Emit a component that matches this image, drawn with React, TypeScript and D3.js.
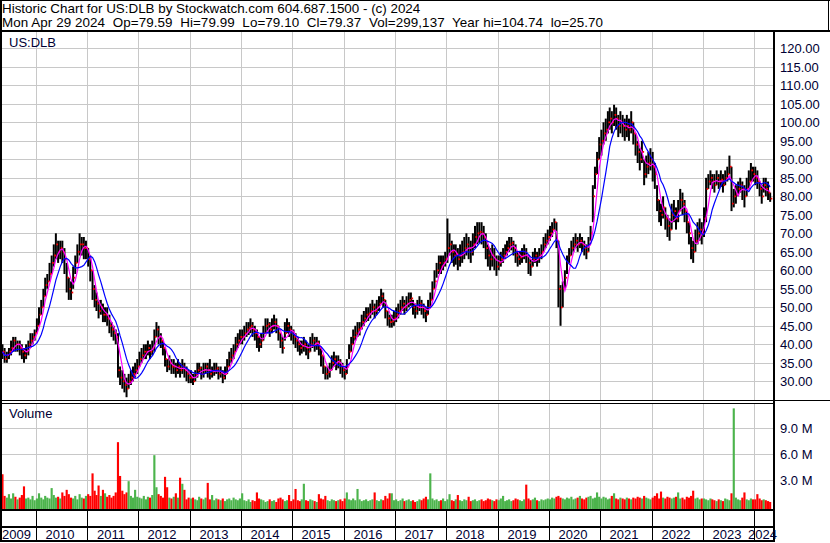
import React from 'react';
import * as d3 from 'd3';

// Half-monthly bars, May 2009 .. Apr 2024
const years = ['2009','2010','2011','2012','2013','2014','2015','2016','2017','2018','2019','2020','2021','2022','2023','2024'];
const priceTicks = [30,35,40,45,50,55,60,65,70,75,80,85,90,95,100,105,110,115,120];
const volTicks = [3, 6, 9];

const closes = [
  38,36,37,38,39,41,40,40,39,38,37,38,40,41,42,43,
  45,48,50,53,56,57,59,62,64,67,65,66,65,63,58,55,54,58,62,65,67,67,66,66,
  63,60,55,52,51,49,50,48,48,47,45,44,43,42,33,31,30,29,28,30,31,32,33,34,
  36,37,38,38,39,38,39,42,44,42,41,39,36,34,35,34,34,33,34,33,34,33,32,31,
  31,30,32,33,33.6,32,33,34,33,32,32.6,33,33.5,32,32.4,31,32,34,36,37,38,40,41,42,
  42,43,44,44.5,45,44,43,42,40,41,43,45,45.4,44,45,46,45,43,41,39,43,45,44,43,
  42,41,40,39,39.5,40,39,38,40,41,40,40.5,39,37,34,32,32.5,33,35,36,35,35.4,34,33,
  32,34,38,40,42,43,44,44.4,46,47,48,48.3,49,50,49,50,51,53,52,49,47,46,46.2,47,
  48,49,50,51,50,51,52,52.4,50,49,50,51,50,49,48,50,52,55,57,60,62,61,62,63,
  66,67,65,64,64.5,63,64,65,66,67,66,65,67,69,70,70.4,70,69,66,64,63,64,63,61,
  62,63,64,65,66,67,67.4,66,64,63,63.5,64,65,64,62,61,63,64,63,64,65,67,68,69,
  70,71,73,68,55,50,55,58,62,64,66,67,68,67,68,67,66,65,67,70,80,86,90,94,
  95,97,98,100,101,100,102,101,99,100,99,98,99,98,100,97,94,92,90,92,86,88,89,90,
  88,86,79,76,75,77,74,72,71,75,76,74,76,79,78,76,73,70,66,65,68,70,71,70,
  74,82,84,85,84,83,85,84,84.5,83,85,86,88,78,80,80.5,82,83,82,80,82,84,87,86,
  85,84,82,80,83,82,81,79.37,
];

const highs = [
  40,39,38,39,41,42,42,41,41,40,39,40,41,43,43,44,
  47,50,52,55,58,59,62,64,67,70,68,68,68,66,62,58,57,61,64,67,70,69,69,68,
  66,64,60,56,54,52,52,51,50,50,48,46,45,44,43,34,33,32,31,32,33,34,35,36,
  38,39,40,40,41,40,41,44,46,45,43,41,39,36,37,36,36,35,36,35,36,35,34,33,
  33,32,33,35,35,34,35,35,35,36,34,35,35,34,34,33,34,36,38,39,40,42,43,44,
  44,45,46,46,47,46,45,44,42,43,45,47,47,46,47,48,47,45,43,42,46,47,46,45,
  44,43,42,41,41,42,41,40,42,43,42,42,41,39,37,34,34,35,37,38,37,37,36,35,
  34,36,40,42,44,45,46,46,48,49,50,50,51,52,51,52,53,55,54,52,49,48,48,49,
  50,51,52,53,52,53,54,54,52,51,52,53,52,51,50,52,54,57,60,62,64,64,64,65,
  74,70,68,67,67,66,67,68,69,70,69,68,70,72,73,73,73,72,70,67,66,67,66,64,
  64,65,66,67,68,69,69,68,67,65,65,66,67,66,64,63,65,66,65,66,67,69,70,71,
  72,73,74,73,68,56,57,60,64,66,68,69,70,69,70,69,68,67,69,72,83,88,92,96,
  98,100,101,103,104,103,104.74,104,102,103,102,101,102,101,103,100,97,95,93,95,90,91,92,93,
  92,89,83,79,78,80,77,75,74,78,79,77,79,82,81,79,76,73,69,68,71,73,74,73,
  77,85,86,87,86,86,87,86,87,86,87,88,91,88,82,83,84,85,84,83,85,87,89,88,
  88,87,84,83,85,85,84,81,
];

const lows = [
  36,35,35,36,37,38,38,38,37,36,35,36,37,39,40,41,
  43,45,48,50,53,55,57,59,61,63,62,63,62,59,54,52,52,55,59,62,64,64,63,63,
  61,57,52,50,49,47,48,46,46,45,43,42,41,40,31,29,28,27,25.7,28,29,30,31,32,
  34,35,36,36,37,36,37,38,42,40,39,37,34,32.5,33,32,32,31,32,31,32,31,30,29.5,
  29.5,29,30,31,32,30.5,31,32,31,30.5,31,31.5,32,30.5,31,29.5,30.5,32,34,35,36,38,39,40,
  40,41,42,42.5,43,42,41,39,38,39,41,43,43,42,43,44,43,41,39,37.5,41,43,42,41,
  40,39,38,37,37.5,38,37,36,38,39,38,38.5,37,34,32,30.5,30.5,31,33,34,33,33.5,32,31,
  30.5,32,36,38,40,41,42,42.4,44,45,46,46.3,47,48,47,48,49,51,50,47,45,44.5,44.5,45,
  46,47,48,49,48,49,50,50.4,48,47,48,49,48,47,46,48,50,52,55,58,59,59,60,61,
  62,64,62,61,61.5,60,61,62,63,64,63,62,64,66,67,67.4,67,66,63,61,60,61,60,58.5,
  60,61,62,63,64,65,65.4,64,62,61,61.5,62,63,62,59,58.5,61,62,61,62,63,65,66,67,
  68,69,71,66,50,45,50,55,59,62,64,65,66,65,66,65,64,63,65,68,73,82,86,90,
  91,94,95,97,98,97,99,98,96,97,96,95,96,95,97,94,91,89,87,89,83,85,86,87,
  84,82,76,73,72,74,71,69,68,71,73,71,73,76,75,73,70,67,63,62,65,67,68,67,
  69,73,82,83,82,81,83,82,82.5,81,83,84,86,76,77,78,80,81,79,77,80,82,84,84,
  83,82,80,78,81,80,79,78.5,
];

// volume in millions of shares
const volumes = [
  3.7,1.2,1.0,1.4,0.9,1.5,1.1,0.8,1.0,1.3,2.3,0.9,1.0,0.8,1.2,0.7,
  0.9,1.5,1.0,0.8,1.2,1.0,0.9,2.1,1.3,1.0,1.1,0.9,1.6,1.2,1.9,1.4,1.0,0.9,1.2,0.8,1.4,1.0,0.9,1.2,
  1.4,1.2,3.8,1.8,1.3,2.4,1.2,1.9,1.5,1.1,1.3,1.0,1.2,1.6,7.4,3.5,1.8,1.4,1.6,2.9,1.2,1.0,1.9,1.1,
  1.0,0.9,1.2,0.8,1.1,1.0,1.3,5.9,2.2,1.4,1.2,1.0,3.4,2.2,1.0,0.9,1.1,1.5,1.0,3.3,2.6,1.9,0.8,1.0,
  0.9,1.0,0.8,0.7,1.1,0.9,0.8,1.0,2.7,0.8,1.3,0.7,0.9,0.8,0.7,0.9,0.6,0.8,0.9,0.7,1.0,0.8,0.7,0.9,
  1.5,0.7,0.6,0.8,0.5,0.7,0.6,1.6,0.9,0.8,0.7,0.5,0.6,0.8,0.6,0.7,0.5,0.9,1.0,0.8,0.6,0.7,1.3,0.6,
  0.8,2.0,0.7,0.6,0.8,2.6,0.7,0.6,0.8,0.7,0.6,0.5,1.4,0.9,0.8,1.2,0.7,0.6,0.8,0.7,0.6,0.7,0.8,0.6,
  0.9,1.6,0.8,0.7,0.9,0.7,2.0,0.8,0.6,0.7,0.8,0.6,0.7,0.8,1.6,0.7,0.6,0.8,0.7,1.2,0.9,1.5,1.5,0.7,
  0.8,0.6,0.7,0.9,0.6,0.7,0.8,0.6,0.7,0.5,0.6,0.8,0.7,0.9,1.1,0.8,3.8,0.9,0.7,0.8,0.6,0.7,0.9,0.6,
  0.8,1.4,0.7,0.6,0.8,1.3,0.7,0.6,0.8,0.7,1.1,0.6,0.7,0.8,0.6,0.7,0.8,0.6,0.7,0.9,0.8,0.7,0.6,0.8,
  0.7,0.9,1.2,0.6,0.7,0.8,0.6,0.7,0.9,0.8,0.7,0.6,0.8,2.5,0.9,0.7,0.8,1.0,0.7,0.6,0.8,0.7,0.8,0.9,
  0.8,1.0,0.9,1.1,1.2,1.0,0.9,0.8,1.0,0.9,1.1,0.8,0.9,1.0,1.2,0.9,0.8,1.0,1.1,1.2,0.9,1.0,1.6,1.1,
  0.9,1.1,1.0,0.8,0.9,1.2,1.5,0.9,0.8,1.0,0.9,0.8,1.0,0.9,0.8,1.0,0.9,1.1,1.0,0.9,1.2,1.0,0.9,0.8,
  1.0,1.2,1.5,0.9,1.7,1.0,0.9,1.1,1.0,0.9,1.0,1.1,1.6,0.9,1.0,0.8,1.1,1.0,1.2,1.8,0.9,1.0,0.8,0.9,
  0.9,0.8,0.7,0.9,0.8,0.7,0.6,0.8,0.7,0.6,0.9,0.8,0.7,1.5,11.3,1.0,0.8,0.7,1.0,1.6,0.8,0.7,0.9,0.8,
  0.8,1.4,0.9,0.7,0.8,0.7,0.6,0.5,
];

const headerLine1 = 'Historic Chart for US:DLB by Stockwatch.com 604.687.1500 - (c) 2024';
const headerLine2 = 'Mon Apr 29 2024  Op=79.59  Hi=79.99  Lo=79.10  Cl=79.37  Vol=299,137  Year hi=104.74  lo=25.70';

const W = 830, H = 543;
const PL = 2, PR = 773;
const P_TOP = 32, P_BOT = 400;
const V_TOP = 404, V_BOT = 509;
const FONT = '"Liberation Sans", Arial, sans-serif';
const LABEL = '#000033';
const GRID = '#c8c8c8';

function barDate(i: number) {
  return new Date(2009, 4 + Math.floor(i / 2), i % 2 === 0 ? 8 : 23);
}

function sma(arr: number[], n: number) {
  return arr.map((_, i) => d3.mean(arr.slice(Math.max(0, i - n + 1), i + 1)) as number);
}

export default function App() {
  const x = d3.scaleTime().domain([new Date(2009, 4, 1), new Date(2024, 3, 29)]).range([1.5, 771]);
  const y = d3.scaleLinear().domain([30, 120]).range([381.3, 48.3]);
  const yv = d3.scaleLinear().domain([0, 12]).range([506.3, 402.3]);

  const data = closes.map((c, i) => ({
    date: barDate(i), c, h: highs[i], l: lows[i], v: volumes[i],
    up: i === 0 ? false : c >= closes[i - 1],
  }));
  const maFast = sma(closes, 4);
  const maSlow = sma(closes, 9);
  const line = d3.line<number>().x((_, i) => x(data[i].date)).y((d) => y(d));

  const yearStarts = years.slice(1).map((yr) => Math.round(x(new Date(+yr, 0, 1))) + 0.5);

  return (
    <svg width={W} height={H} style={{ position: 'absolute', left: 0, top: 0, background: '#fff' }} fontFamily={FONT}>
      <defs>
        <clipPath id="pclip"><rect x={PL} y={P_TOP} width={PR - PL} height={P_BOT - P_TOP} /></clipPath>
        <clipPath id="vclip"><rect x={PL} y={V_TOP} width={PR - PL} height={V_BOT - V_TOP} /></clipPath>
      </defs>
      <rect x={0} y={0} width={W} height={H} fill="#fff" />

      {/* header */}
      <text x={2} y={12.8} fontSize={13.4} fill="#000" xmlSpace="preserve" style={{ whiteSpace: 'pre' }}>{headerLine1}</text>
      <text x={2} y={27.3} fontSize={13.4} fill="#000" xmlSpace="preserve" style={{ whiteSpace: 'pre' }} textLength={601} lengthAdjust="spacing">{headerLine2}</text>

      {/* price grid */}
      {priceTicks.map((t) => (
        <line key={'pg' + t} x1={PL} x2={PR} y1={Math.round(y(t)) + 0.5} y2={Math.round(y(t)) + 0.5} stroke={GRID} />
      ))}
      {yearStarts.map((xx, i) => (
        <line key={'pv' + i} x1={xx} x2={xx} y1={P_TOP} y2={P_BOT} stroke={GRID} />
      ))}
      {/* volume grid */}
      {volTicks.map((t) => (
        <line key={'vg' + t} x1={PL} x2={PR} y1={Math.round(yv(t)) + 0.5} y2={Math.round(yv(t)) + 0.5} stroke={GRID} />
      ))}
      {yearStarts.map((xx, i) => (
        <line key={'vv' + i} x1={xx} x2={xx} y1={V_TOP} y2={V_BOT} stroke={GRID} />
      ))}

      {/* price bars */}
      <g clipPath="url(#pclip)">
        {data.map((d, i) => (
          <line key={'b' + i} x1={x(d.date)} x2={x(d.date)} y1={y(d.h)} y2={y(d.l)} stroke="#000" strokeWidth={2} />
        ))}
        {data.map((d, i) => (
          <line key={'c' + i} x1={x(d.date) + 0.5} x2={x(d.date) + 2.2} y1={y(d.c)} y2={y(d.c)} stroke="#ff0000" strokeWidth={1.8} />
        ))}
        <path d={line(maFast) || ''} fill="none" stroke="#ff00ff" strokeWidth={1.2} />
        <path d={line(maSlow) || ''} fill="none" stroke="#0000ff" strokeWidth={1.2} />
      </g>

      {/* volume bars */}
      <g clipPath="url(#vclip)">
        {data.map((d, i) => (
          <rect key={'v' + i} x={x(d.date) - 1.07} width={2.14} y={yv(d.v)} height={V_BOT - yv(d.v)} fill={d.up ? '#4cb44c' : '#ff0000'} />
        ))}
      </g>

      {/* frame */}
      <line x1={0} x2={W} y1={0.5} y2={0.5} stroke="#000" />
      <line x1={W - 1.5} x2={W - 1.5} y1={0} y2={31} stroke="#000" />
      <rect x={0} y={30} width={W} height={2} fill="#000" />
      <rect x={0} y={0} width={2} height={542} fill="#000" />
      <rect x={773} y={30} width={2} height={512} fill="#000" />
      <line x1={0} x2={W} y1={400.5} y2={400.5} stroke="#000" />
      <line x1={0} x2={773} y1={403.5} y2={403.5} stroke="#000" />
      <rect x={0} y={509} width={775} height={2} fill="#000" />
      <rect x={0} y={526} width={775} height={2} fill="#000" />
      <rect x={0} y={540} width={775} height={2} fill="#000" />
      {yearStarts.map((xx, i) => (
        <line key={'bv' + i} x1={xx} x2={xx} y1={511} y2={540} stroke="#000" />
      ))}

      {/* labels */}
      <text x={9} y={46.5} fontSize={13} fill={LABEL}>US:DLB</text>
      <text x={9} y={417.5} fontSize={13} fill={LABEL}>Volume</text>
      {priceTicks.map((t) => (
        <text key={'pl' + t} x={780} y={y(t) + 4.7} fontSize={13} fill={LABEL}>{t.toFixed(2)}</text>
      ))}
      {volTicks.map((t) => (
        <text key={'vl' + t} x={780} y={yv(t) + 4.7} fontSize={13} fill={LABEL}>{t.toFixed(1) + ' M'}</text>
      ))}
      {years.map((yr, i) => {
        if (i === 0) return <text key={yr} x={2} y={538.5} fontSize={13} fill={LABEL}>{yr}</text>;
        if (i === years.length - 1) return <text key={yr} x={777} y={538.5} fontSize={13} fill={LABEL} textAnchor="end">{yr}</text>;
        return <text key={yr} x={yearStarts[i - 1] + 23.5} y={538.5} fontSize={13} fill={LABEL} textAnchor="middle">{yr}</text>;
      })}
    </svg>
  );
}
